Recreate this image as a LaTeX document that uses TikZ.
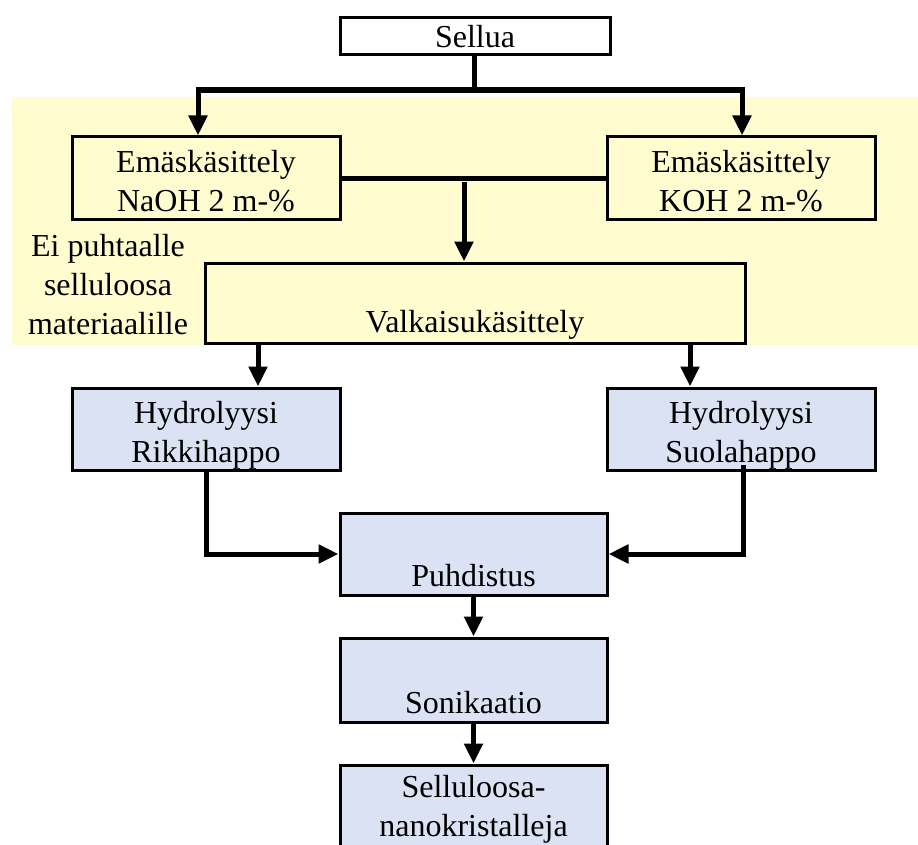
\documentclass[tikz,border=0pt]{standalone}
\usepackage{fontspec}
\setmainfont{Liberation Serif}
\usetikzlibrary{arrows.meta}
\definecolor{bgyellow}{HTML}{FFFDD0}
\definecolor{boxblue}{HTML}{DAE2F3}
\tikzset{
  box/.style={draw=black, line width=3pt, inner sep=0pt},
  ybox/.style={box, fill=bgyellow},
  bbox/.style={box, fill=boxblue},
  txt/.style={inner sep=0pt, align=center, font=\fontsize{32}{39}\selectfont},
  conn/.style={line width=5pt},
  arr/.style={conn, -{Triangle[width=18pt,length=20pt]}},
}
\begin{document}
\begin{tikzpicture}[x=1pt,y=-1pt]
\useasboundingbox (0,0) rectangle (918,845);
\clip (0,0) rectangle (918,845);
\fill[white] (0,0) rectangle (918,845);
\fill[bgyellow] (12,97) rectangle (918,345);

% boxes
\node[box, minimum width=270pt, minimum height=37pt] (sellua) at (475,36.5) {};
\node[ybox, minimum width=268pt, minimum height=83pt] (emL) at (206,178.5) {};
\node[ybox, minimum width=268pt, minimum height=83pt] (emR) at (741,178.5) {};
\node[ybox, minimum width=540pt, minimum height=80pt] (valk) at (475,303) {};
\node[bbox, minimum width=268pt, minimum height=82pt] (hydL) at (206,429) {};
\node[bbox, minimum width=268pt, minimum height=82pt] (hydR) at (741,429) {};
\node[bbox, minimum width=267pt, minimum height=82pt] (puh) at (473.5,554) {};
\node[bbox, minimum width=267pt, minimum height=84pt] (son) at (473.5,680) {};
\node[bbox, minimum width=267pt, minimum height=86pt] (sel) at (473.5,808) {};

% texts
\node[txt] (tsellua) at ([yshift=0pt]sellua.center) {Sellua};
\node[txt] (temL) at ([yshift=-3pt]emL.center) {Emäskäsittely\\NaOH 2 m-\%};
\node[txt] (temR) at ([yshift=-3pt]emR.center) {Emäskäsittely\\KOH 2 m-\%};
\node[txt] (tvalk) at ([yshift=-22pt]valk.center) {Valkaisukäsittely};
\node[txt] (note) at (108,285) {Ei puhtaalle\\selluloosa\\materiaalille};
\node[txt] (thydL) at ([yshift=-6pt]hydL.center) {Hydrolyysi\\Rikkihappo};
\node[txt] (thydR) at ([yshift=-6pt]hydR.center) {Hydrolyysi\\Suolahappo};
\node[txt] (tpuh) at ([yshift=-22pt]puh.center) {Puhdistus};
\node[txt] (tson) at ([yshift=-23pt]son.center) {Sonikaatio};
\node[txt] (tsel) at ([yshift=-1pt]sel.center) {Selluloosa-\\nanokristalleja};

% connector coordinates
\coordinate (j1) at (474,90);
\coordinate (bl) at (198,90);
\coordinate (br) at (742,90);
\coordinate (j2) at (464,182);
\coordinate (v1) at (258,0);
\coordinate (v2) at (690,0);
\coordinate (r1) at (743,465);

% connectors
\draw[conn] (sellua.south -| j1) -- (j1);
\draw[conn, line width=6pt] ([xshift=-2.5pt]bl) -- ([xshift=2.5pt]br);
\draw[arr] (bl) -- (emL.north -| bl);
\draw[arr] (br) -- (emR.north -| br);
\draw[conn] (emL.east) -- (emR.west);
\draw[arr] (j2) -- (valk.north -| j2);
\draw[arr] (valk.south -| v1) -- (hydL.north -| v1);
\draw[arr] (valk.south -| v2) -- (hydR.north -| v2);
\draw[arr] (hydL.south) |- (puh.west);
\draw[arr] (r1) |- (puh.east);
\draw[arr] (puh.south) -- (son.north);
\draw[arr] (son.south) -- (sel.north);
\end{tikzpicture}
\end{document}
